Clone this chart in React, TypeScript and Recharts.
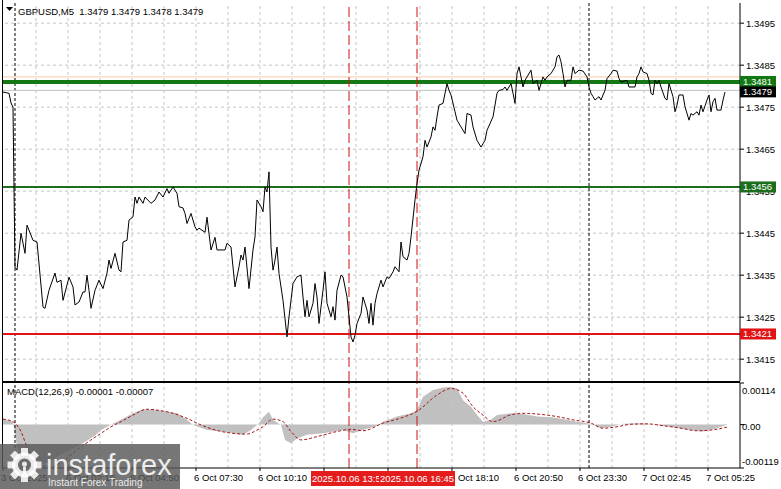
import React from "react";
import { ComposedChart, Line, Area, XAxis, YAxis, ReferenceLine } from "recharts";

const FONT = '"Liberation Sans", Arial, sans-serif';

const chartTitle = "GBPUSD,M5  1.3479 1.3479 1.3478 1.3479";
const macdTitle = "MACD(12,26,9) -0.00001 -0.00007";

// [bar index, close] — M5 bars counted from the left edge
const pricePoints: [number, number][] = [
  [0, 1.34786], [3, 1.34783], [4, 1.3476], [5, 1.3475], [6, 1.34369], [7, 1.34362], [9, 1.3445], [11, 1.34402],
  [12, 1.34469], [15, 1.34433], [17, 1.34429], [20, 1.34274], [21, 1.34271], [23, 1.34314], [26, 1.34355], [27, 1.34333],
  [29, 1.34338], [30, 1.3429], [33, 1.34345], [35, 1.34322], [36, 1.34279], [38, 1.34286], [40, 1.3431], [41, 1.3431],
  [42, 1.3435], [43, 1.34314], [44, 1.34271], [46, 1.34314], [47, 1.34326], [48, 1.34338], [50, 1.34318], [52, 1.34355],
  [53, 1.34386], [54, 1.34366], [56, 1.34402], [58, 1.34362], [59, 1.34358], [60, 1.34429], [62, 1.34433], [63, 1.34481],
  [65, 1.34489], [66, 1.34536], [67, 1.34521], [68, 1.34536], [70, 1.34521], [71, 1.34536], [74, 1.34521], [76, 1.34529],
  [78, 1.34548], [80, 1.34536], [82, 1.34556], [83, 1.34545], [85, 1.3456], [87, 1.34545], [88, 1.34513], [90, 1.3451],
  [91, 1.34497], [92, 1.34473], [94, 1.34497], [96, 1.34465], [97, 1.34457], [98, 1.34462], [101, 1.34452], [102, 1.34488],
  [104, 1.3441], [106, 1.3444], [107, 1.3441], [111, 1.3441], [112, 1.34426], [114, 1.34417], [116, 1.34322], [118, 1.3437],
  [119, 1.34398], [120, 1.34386], [121, 1.34417], [123, 1.34318], [125, 1.3441], [126, 1.34441], [127, 1.34529], [129, 1.34513],
  [130, 1.34501], [131, 1.3456], [132, 1.34548], [133, 1.34596], [134, 1.34417], [135, 1.34362], [136, 1.34386], [137, 1.34417],
  [138, 1.34354], [140, 1.3429], [142, 1.34203], [143, 1.34251], [145, 1.3433], [147, 1.34346], [149, 1.3435], [150, 1.34298],
  [151, 1.34251], [152, 1.3429], [153, 1.34251], [155, 1.34283], [156, 1.3433], [157, 1.34298], [158, 1.34235], [160, 1.34314],
  [161, 1.34358], [162, 1.34283], [164, 1.34251], [165, 1.34275], [166, 1.34243], [167, 1.34314], [169, 1.3435], [170, 1.34346],
  [172, 1.34298], [173, 1.34251], [174, 1.34203], [175, 1.34191], [176, 1.34207], [177, 1.34235], [179, 1.34259], [180, 1.34298],
  [182, 1.34267], [183, 1.34235], [184, 1.34283], [185, 1.34231], [186, 1.34283], [187, 1.34306], [189, 1.34338], [190, 1.34322],
  [192, 1.34346], [193, 1.34342], [194, 1.3435], [195, 1.34358], [196, 1.3437], [198, 1.34358], [199, 1.34429], [200, 1.34394],
  [202, 1.34386], [203, 1.34402], [204, 1.34441], [206, 1.34529], [207, 1.34568], [208, 1.346], [210, 1.34632], [211, 1.34671],
  [212, 1.34655], [214, 1.34679], [215, 1.34703], [216, 1.34695], [217, 1.34727], [218, 1.34755], [220, 1.34759], [221, 1.34783],
  [222, 1.34806], [223, 1.3479], [224, 1.34779], [226, 1.34739], [227, 1.34719], [229, 1.34703], [231, 1.34687], [232, 1.34735],
  [234, 1.34731], [235, 1.34703], [237, 1.34671], [239, 1.34655], [241, 1.34671], [242, 1.34695], [245, 1.34727], [247, 1.34783],
  [248, 1.3479], [250, 1.34792], [251, 1.34798], [252, 1.3479], [254, 1.34806], [255, 1.34783], [256, 1.34759], [257, 1.3483],
  [258, 1.34846], [259, 1.34822], [260, 1.34798], [261, 1.34814], [262, 1.34822], [264, 1.34838], [265, 1.34806], [267, 1.34814],
  [268, 1.3479], [270, 1.34822], [271, 1.34814], [272, 1.34822], [274, 1.3483], [276, 1.34846], [277, 1.3487], [278, 1.34874],
  [279, 1.34858], [280, 1.3483], [281, 1.34798], [282, 1.34814], [284, 1.34814], [285, 1.34846], [286, 1.3483], [288, 1.34838],
  [290, 1.34836], [292, 1.34822], [293, 1.34798], [294, 1.34783], [295, 1.34775], [296, 1.34767], [298, 1.34775], [299, 1.34767],
  [300, 1.34779], [301, 1.3479], [302, 1.34818], [304, 1.3483], [305, 1.34838], [307, 1.34836], [308, 1.34818], [309, 1.3481],
  [312, 1.34814], [313, 1.34798], [315, 1.34798], [316, 1.34798], [317, 1.34822], [318, 1.3483], [319, 1.34846], [320, 1.34834],
  [322, 1.3483], [323, 1.34814], [324, 1.34783], [325, 1.34779], [326, 1.34814], [327, 1.34806], [328, 1.34814], [329, 1.34798],
  [331, 1.34771], [332, 1.34767], [333, 1.34806], [335, 1.34775], [336, 1.34739], [337, 1.34755], [338, 1.34779], [340, 1.34779],
  [341, 1.34751], [343, 1.34719], [344, 1.34735], [345, 1.34731], [347, 1.34739], [348, 1.34731], [349, 1.34755], [350, 1.34739],
  [352, 1.34767], [353, 1.34779], [354, 1.34739], [355, 1.34763], [356, 1.34771], [357, 1.34743], [359, 1.34743], [360, 1.34767],
  [361, 1.34786],
];

// [bar index, MACD main]
const macdMain: [number, number][] = [
  [0, 0.00015], [5, 0.00008], [7, -0.00061], [10, -0.001], [14, -0.00119], [18, -0.00112], [24, -0.001], [28, -0.00085],
  [34, -0.00068], [40, -0.00051], [46, -0.0003], [49, -0.00015], [54, 0], [57, 0.00008], [65, 0.00031], [70, 0.00042],
  [77, 0.0004], [82, 0.00036], [87, 0.00031], [92, 0.00013], [95, -0.00001], [102, -0.00015], [109, -0.00019], [115, -0.00024],
  [120, -0.00028], [124, -0.00015], [128, 0.00004], [130, 0.0002], [133, 0.00035], [135, 0.00013], [139, -0.00001], [141, -0.00042],
  [144, -0.00051], [147, -0.00038], [152, -0.00028], [160, -0.00024], [170, -0.00015], [175, -0.00024], [180, -0.00015], [187, -0.00003],
  [190, 0.00008], [197, 0.00022], [204, 0.00031], [207, 0.0004], [210, 0.00076], [215, 0.00095], [220, 0.00102], [224, 0.00103],
  [227, 0.00099], [230, 0.00067], [234, 0.00049], [237, 0.00026], [240, 0.00008], [244, 0.00013], [247, 0.00026], [254, 0.00031],
  [260, 0.00029], [267, 0.00022], [274, 0.0002], [280, 0.00015], [287, 0.00008], [294, 0.00002], [299, -0.0001], [304, -0.00006],
  [310, 0.00002], [319, 0.00004], [327, -0.00001], [335, -0.00007], [344, -0.00015], [350, -0.00019], [357, -0.0001], [359, -0.00006],
  [362, -0.00001],
];

// [bar index, MACD signal]
const macdSignal: [number, number][] = [
  [0, 0.00015], [5, 0.00008], [9, -0.00019], [12, -0.00061], [15, -0.00092], [19, -0.00111], [24, -0.00115], [28, -0.00108],
  [32, -0.00092], [39, -0.00061], [44, -0.00042], [49, -0.00024], [54, -0.00006], [59, 0.00008], [65, 0.00026], [72, 0.00042],
  [79, 0.00038], [85, 0.00031], [92, 0.00017], [99, -0.00001], [105, -0.00013], [115, -0.00024], [122, -0.00026], [127, -0.00015],
  [130, -0.00006], [135, 0.00015], [140, 0.00008], [144, -0.00019], [149, -0.00042], [157, -0.00033], [167, -0.00019], [174, -0.00013],
  [180, -0.00017], [190, 0.00004], [200, 0.0002], [207, 0.00036], [217, 0.00081], [224, 0.00099], [230, 0.00086], [235, 0.00049],
  [240, 0.00026], [245, 0.00008], [254, 0.00027], [260, 0.00031], [269, 0.00028], [277, 0.00022], [285, 0.00013], [294, 0.00004],
  [300, -0.0001], [307, -0.00006], [314, 0.00001], [322, 0.00002], [330, -0.00003], [339, -0.0001], [347, -0.00017], [354, -0.00015],
  [362, -0.00007],
];

const priceTicks = [1.3415, 1.3425, 1.3435, 1.3445, 1.3455, 1.3465, 1.3475, 1.3485, 1.3495];
const gridBars = [16.5, 32.5, 48.5, 64.5, 80.5, 96.5, 112.5, 128.5, 144.5, 160.5, 176.5, 192.5, 208.5, 224.5, 240.5, 256.5, 272.5, 288.5, 304.5, 320.5, 336.5, 352.5];
const timeTickBars = [0, 32.5, 64.5, 96.5, 128.5, 160.5, 192.5, 224.5, 256.5, 288.5, 320.5, 352.5];
const timeTickLabels = ["3 Oct 2025", "6 Oct 02:10", "6 Oct 04:50", "6 Oct 07:30", "6 Oct 10:10", "6 Oct 12:50", "6 Oct 15:30", "6 Oct 18:10", "6 Oct 20:50", "6 Oct 23:30", "7 Oct 02:45", "7 Oct 05:25"];
const daySeparatorBars = [6, 293];
const markerBars = [173, 207];
const markerLabels = ["2025.10.06 13:55", "2025.10.06 16:45"];
const levelPrices = [1.3481, 1.3456, 1.3421];
const bidPrice = 1.3479;
const askPrice = 1.34822;
const macdTicks = [0.00114, 0, -0.00119];
const macdTickLabels = ["0.00114", "0.00", "-0.00119"];

const levelColors = ["#137813", "#1c6e1c", "#e01414"];
const levelWidths = [4, 2, 2];

const priceData = pricePoints.map(([bar, price]) => ({ bar, price }));
const histData = macdMain.map(([bar, v]) => ({ bar, v }));
const signalData = macdSignal.map(([bar, v]) => ({ bar, v }));

const GRID = "#c4c4c4";
const BAR_DOMAIN: [number, number] = [0, 368.5];
const PRICE_DOMAIN: [number, number] = [1.34098, 1.34998];
const MACD_DOMAIN: [number, number] = [-0.00119, 0.00114];

function PriceTag(props: any) {
  const vb = props.viewBox || {};
  const x = vb.x + vb.width;
  const y = vb.y + (props.dy || 0);
  return (
    <g>
      <rect x={x} y={y - 5.5} width={36} height={11} fill={props.fill} />
      <text x={x + 3} y={y + 3.5} fontSize={9.5} fontFamily={FONT} fill="#fff">
        {props.text}
      </text>
    </g>
  );
}

function TimeTag(props: any) {
  const vb = props.viewBox || {};
  const x = vb.x;
  const bottom = vb.y + vb.height;
  return (
    <g>
      <rect x={x - 38} y={bottom + 3} width={76} height={15} fill="#e41c1c" />
      <text x={x} y={bottom + 14} textAnchor="middle" fontSize={9.5} fontFamily={FONT} fill="#fff">
        {props.text}
      </text>
    </g>
  );
}

function TimeTick(props: any) {
  const { x, y, payload } = props;
  const i = timeTickBars.indexOf(payload.value);
  return (
    <text x={x - 2} y={y + 8} fontSize={9.5} fontFamily={FONT} fill="#000">
      {timeTickLabels[i]}
    </text>
  );
}

function MacdTick(props: any) {
  const { x, y, payload } = props;
  const i = macdTicks.indexOf(payload.value);
  const dy = i === 0 ? 7 : i === 2 ? -7 : 1.5;
  return (
    <text x={x - 4} y={y + dy + 3.5} fontSize={9.5} fontFamily={FONT} fill="#000">
      {macdTickLabels[i]}
    </text>
  );
}

function Gear() {
  const teeth = [0, 45, 90, 135, 180, 225, 270, 315];
  return (
    <g transform="translate(24.5 21)" fill="rgba(255,255,255,0.85)">
      {teeth.map((a) => (
        <rect key={a} x={-3.5} y={-17} width={7} height={8} transform={`rotate(${a})`} />
      ))}
      <circle r={12.5} />
      <circle r={6.5} fill="#6a6a6a" />
      <circle r={2.5} cy={-1} />
      <rect x={-1.5} y={1.5} width={3} height={8} />
    </g>
  );
}

const layer: React.CSSProperties = { position: "absolute", left: 0 };

export default function App() {
  return (
    <div style={{ position: "fixed", left: 0, top: 0, width: 781, height: 489, background: "#fff", overflow: "hidden", fontFamily: FONT }}>
      {/* price panel */}
      <div style={{ ...layer, top: 0 }}>
        <ComposedChart width={781} height={382} data={priceData} margin={{ top: 3, right: 0, bottom: 1, left: 3 }}>
          <XAxis dataKey="bar" type="number" domain={BAR_DOMAIN} hide allowDataOverflow />
          <YAxis
            orientation="right"
            width={41}
            domain={PRICE_DOMAIN}
            ticks={priceTicks}
            interval={0}
            allowDataOverflow
            tickFormatter={(v: number) => v.toFixed(4)}
            tick={{ fontSize: 9.5, fontFamily: FONT, fill: "#000" }}
            tickSize={4}
            tickMargin={2}
            axisLine={{ stroke: "#000" }}
            tickLine={{ stroke: "#000" }}
          />
          {priceTicks.map((p) => (
            <ReferenceLine key={`h${p}`} y={p} stroke={GRID} strokeDasharray="3 3" />
          ))}
          {gridBars.map((b) => (
            <ReferenceLine key={`v${b}`} x={b} stroke={GRID} strokeDasharray="3 3" />
          ))}
          {daySeparatorBars.map((b) => (
            <ReferenceLine key={`d${b}`} x={b} stroke="#000" strokeDasharray="3 2" />
          ))}
          <ReferenceLine y={askPrice} stroke="#f6c8a4" />
          {levelPrices.map((p, i) => (
            <ReferenceLine key={`l${p}`} y={p} stroke={levelColors[i]} strokeWidth={levelWidths[i]} />
          ))}
          <ReferenceLine y={bidPrice} stroke="#bcc4bc" />
          {markerBars.map((b) => (
            <ReferenceLine key={`m${b}`} x={b} stroke="#d01010" strokeDasharray="10 4" />
          ))}
          <Line dataKey="price" type="linear" stroke="#000" strokeWidth={1} dot={false} isAnimationActive={false} />
        </ComposedChart>
      </div>
      {/* price tags drawn above the axis labels */}
      <div style={{ ...layer, top: 0 }}>
        <ComposedChart width={781} height={382} data={priceData} margin={{ top: 3, right: 0, bottom: 1, left: 3 }}>
          <XAxis dataKey="bar" type="number" domain={BAR_DOMAIN} hide allowDataOverflow />
          <YAxis orientation="right" width={41} domain={PRICE_DOMAIN} allowDataOverflow tick={false} axisLine={false} tickLine={false} />
          {levelPrices.map((p, i) => (
            <ReferenceLine
              key={`t${p}`}
              y={p}
              stroke="none"
              label={<PriceTag text={p.toFixed(4)} fill={levelColors[i]} dy={i === 0 ? -0.5 : 0} />}
            />
          ))}
          <ReferenceLine y={bidPrice} stroke="none" label={<PriceTag text={bidPrice.toFixed(4)} fill="#000" dy={1.5} />} />
        </ComposedChart>
      </div>
      {/* MACD panel */}
      <div style={{ ...layer, top: 382 }}>
        <ComposedChart width={781} height={107} margin={{ top: 1, right: 0, bottom: 0, left: 3 }}>
          <XAxis
            dataKey="bar"
            type="number"
            domain={BAR_DOMAIN}
            allowDataOverflow
            ticks={timeTickBars}
            interval={0}
            height={21}
            tick={<TimeTick />}
            tickSize={3}
            tickMargin={2}
            axisLine={{ stroke: "#000" }}
            tickLine={{ stroke: "#000" }}
          />
          <YAxis
            orientation="right"
            width={41}
            domain={MACD_DOMAIN}
            ticks={macdTicks}
            interval={0}
            allowDataOverflow
            tick={<MacdTick />}
            tickSize={4}
            tickMargin={2}
            axisLine={{ stroke: "#000" }}
            tickLine={{ stroke: "#000" }}
          />
          {gridBars.map((b) => (
            <ReferenceLine key={`v${b}`} x={b} stroke={GRID} strokeDasharray="3 3" />
          ))}
          {daySeparatorBars.map((b) => (
            <ReferenceLine key={`d${b}`} x={b} stroke="#000" strokeDasharray="3 2" />
          ))}
          <Area
            data={histData}
            dataKey="v"
            type="linear"
            baseValue={0}
            stroke="none"
            fill="#c0c0c0"
            fillOpacity={1}
            isAnimationActive={false}
          />
          <Line
            data={signalData}
            dataKey="v"
            type="monotone"
            stroke="#a81818"
            strokeWidth={1}
            strokeDasharray="3 2"
            dot={false}
            isAnimationActive={false}
          />
          {markerBars.map((b) => (
            <ReferenceLine key={`m${b}`} x={b} stroke="#d01010" strokeDasharray="10 4" />
          ))}
        </ComposedChart>
      </div>
      {/* time tags drawn above the time labels */}
      <div style={{ ...layer, top: 382 }}>
        <ComposedChart width={781} height={107} margin={{ top: 1, right: 0, bottom: 0, left: 3 }}>
          <XAxis dataKey="bar" type="number" domain={BAR_DOMAIN} allowDataOverflow height={21} tick={false} axisLine={false} tickLine={false} />
          <YAxis orientation="right" width={41} domain={MACD_DOMAIN} allowDataOverflow tick={false} axisLine={false} tickLine={false} />
          {markerBars.map((b, i) => (
            <ReferenceLine key={`t${b}`} x={b} stroke="none" label={<TimeTag text={markerLabels[i]} />} />
          ))}
        </ComposedChart>
      </div>
      <svg width={781} height={489} style={{ position: "absolute", left: 0, top: 0, pointerEvents: "none" }}>
        <line x1={2.5} y1={0} x2={2.5} y2={468} stroke="#000" />
        <line x1={2} y1={381.5} x2={740} y2={381.5} stroke="#000" />
        <line x1={2} y1={382.5} x2={740} y2={382.5} stroke="#000" />
        <path d="M6 7 L13 7 L9.5 11 Z" fill="#000" />
        <text x={18} y={15} fontSize={9.5} fontFamily={FONT} fill="#000" style={{ whiteSpace: "pre" }}>
          {chartTitle}
        </text>
        <text x={7} y={395} fontSize={9.5} fontFamily={FONT} fill="#000">
          {macdTitle}
        </text>
        <g transform="translate(0 444)">
          <rect x={0} y={0} width={180} height={45} fill="rgba(88,88,88,0.82)" />
          <Gear />
          <text x={46} y={31} fontSize={29} fontFamily={FONT} fill="rgba(255,255,255,0.88)">
            instaforex
          </text>
          <text x={48} y={42} fontSize={10} fontFamily={FONT} fill="rgba(255,255,255,0.88)">
            Instant Forex Trading
          </text>
        </g>
      </svg>
    </div>
  );
}
